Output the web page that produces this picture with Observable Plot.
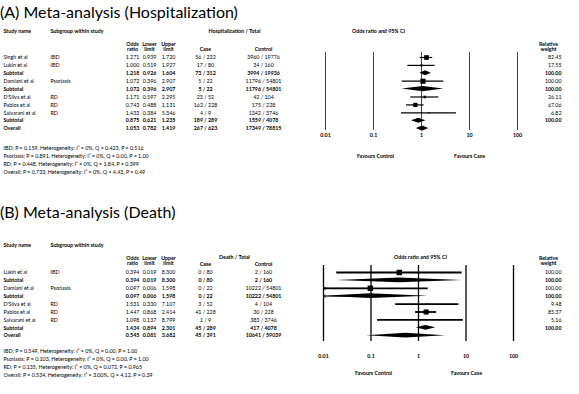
<!DOCTYPE html>
<html><head><meta charset="utf-8">
<script src="https://cdn.jsdelivr.net/npm/d3@7"></script>
<script src="https://cdn.jsdelivr.net/npm/@observablehq/plot@0.6"></script>
<style>
body{margin:0;background:#fff;font-family:Lato,"Open Sans",sans-serif;}
#wrap{position:relative;width:579px;height:394px;overflow:hidden;background:#fff}
.title{position:absolute;left:0;font-size:16px;color:#000;white-space:nowrap;line-height:1}
.panel{position:absolute;left:0}
</style></head><body>
<div id="wrap">
 <div class="title" style="top:4px">(A) Meta-analysis (Hospitalization)</div>
 <div class="panel" id="pA" style="top:24px"></div>
 <div class="title" style="top:204px">(B) Meta-analysis (Death)</div>
 <div class="panel" id="pB" style="top:228px"></div>
</div>
<script>
// ---------- Panel A data (Hospitalization) ----------
const studiesA   = ["Singh et al","Lukin et al","Subtotal","Damiani et al","Subtotal","D'Silva et al","Pablos et al","Salvarani et al","Subtotal","Overall"];
const subgroupsA = ["IBD","IBD","","Psoriasis","","RD","RD","RD","",""];
const kindsA     = ["study","study","subtotal","study","subtotal","study","study","study","subtotal","overall"];
const oddsA      = [1.271,1.000,1.218,1.072,1.072,1.171,0.743,1.433,0.875,1.053];
const lowerA     = [0.939,0.519,0.926,0.396,0.396,0.597,0.488,0.384,0.621,0.782];
const upperA     = [1.720,1.927,1.604,2.907,2.907,2.295,1.131,5.346,1.235,1.419];
const casesA     = ["56 / 232","17 / 80","73 / 312","5 / 22","5 / 22","23 / 52","162 / 228","4 / 9","189 / 289","267 / 623"];
const controlsA  = ["3960 / 19776","34 / 160","3994 / 19936","11796 / 54801","11796 / 54801","42 / 104","175 / 228","1342 / 3746","1559 / 4078","17349 / 78815"];
const weightsA   = [82.45,17.55,100.00,100.00,100.00,26.11,67.06,6.82,100.00,null];
const notesA = [
  "IBD; P = 0.159, Heterogeneity: I\u00b2 = 0%, Q = 0.423, P = 0.516",
  "Psoriasis; P = 0.891, Heterogeneity: I\u00b2 = 0%, Q = 0.00, P = 1.00",
  "RD; P = 0.448, Heterogeneity: I\u00b2 = 0%, Q = 1.84, P = 0.399",
  "Overall; P = 0.733, Heterogeneity: I\u00b2 = 0%, Q = 4.43, P = 0.49"
];

// ---------- Panel B data (Death) ----------
const studiesB   = ["Lukin et al","Subtotal","Damiani et al","Subtotal","D'Silva et al","Pablos et al","Salvarani et al","Subtotal","Overall"];
const subgroupsB = ["IBD","","Psoriasis","","RD","RD","RD","",""];
const kindsB     = ["study","subtotal","study","subtotal","study","study","study","subtotal","overall"];
const oddsB      = [0.394,0.394,0.097,0.097,1.531,1.447,1.098,1.434,0.545];
const lowerB     = [0.019,0.019,0.006,0.006,0.330,0.868,0.137,0.894,0.081];
const upperB     = [8.300,8.300,1.598,1.598,7.107,2.414,8.799,2.301,3.682];
const casesB     = ["0 / 80","0 / 80","0 / 22","0 / 22","3 / 52","41 / 228","1 / 9","45 / 289","45 / 391"];
const controlsB  = ["2 / 160","2 / 160","10222 / 54801","10222 / 54801","4 / 104","30 / 228","383 / 3746","417 / 4078","10641 / 59039"];
const weightsB   = [100.00,100.00,100.00,100.00,9.48,85.37,5.16,100.00,null];
const notesB = [
  "IBD; P = 0.549, Heterogeneity: I\u00b2 = 0%, Q = 0.00, P = 1.00",
  "Psoriasis; P = 0.103, Heterogeneity: I\u00b2 = 0%, Q = 0.00, P = 1.00",
  "RD; P = 0.135, Heterogeneity: I\u00b2 = 0%, Q = 0.072, P = 0.965",
  "Overall; P = 0.534, Heterogeneity: I\u00b2 = 3.00%, Q = 4.12, P = 0.39"
];

// axis ticks of the odds-ratio panel
const orTicks = [0.01, 0.1, 1, 10, 100];
const orTickLabels = ["0.01", "0.1", "1", "10", "100"];
const colHeads = ["Odds\nratio", "Lower\nlimit", "Upper\nlimit"];

const FS = 5.3;
const FONT = "Lato, 'Open Sans', sans-serif";

function panel(el, d, L) {
  const rows = d.studies.map((s, i) => ({
    i, study: s, subgroup: d.subgroups[i], kind: d.kinds[i],
    or: d.odds[i], lo: d.lower[i], hi: d.upper[i],
    cs: d.cases[i], ct: d.controls[i], w: d.weights[i]
  }));
  const plain = rows.filter(r => r.kind === "study");
  const bold = rows.filter(r => r.kind !== "study");
  const n = rows.length;
  const rowOf = py => (py - L.row0) / L.step; // page y -> row units
  const H = L.diamond;
  const lim = v => Math.max(0.01, Math.min(100, v));
  const diamonds = bold.flatMap(r => [
    {key: r.i, x: lim(r.lo), ya: r.i, yb: r.i},
    {key: r.i, x: r.or, ya: r.i - H, yb: r.i + H},
    {key: r.i, x: lim(r.hi), ya: r.i, yb: r.i}
  ]);
  const clipped = rows.filter(r => r.lo < 0.01);
  const top = L.top;

  const txt = (data, opts, fw) => Plot.text(data, {fontSize: FS, fill: "black", fontWeight: fw, ...opts});
  const cols = (data, fw) => [
    txt(data, {y: "i", text: "study", frameAnchor: "left", dx: L.xStudy, textAnchor: "start"}, fw),
    txt(data, {y: "i", text: "subgroup", frameAnchor: "left", dx: L.xSub, textAnchor: "start"}, "normal"),
    txt(data, {y: "i", text: r => r.or.toFixed(3), frameAnchor: "left", dx: L.xOr, textAnchor: "middle"}, fw),
    txt(data, {y: "i", text: r => r.lo.toFixed(3), frameAnchor: "left", dx: L.xLo, textAnchor: "middle"}, fw),
    txt(data, {y: "i", text: r => r.hi.toFixed(3), frameAnchor: "left", dx: L.xHi, textAnchor: "middle"}, fw),
    txt(data, {y: "i", text: "cs", frameAnchor: "left", dx: L.xCase, textAnchor: "middle"}, fw),
    txt(data, {y: "i", text: "ct", frameAnchor: "left", dx: L.xCtrl, textAnchor: "middle"}, fw),
    txt(data.filter(r => r.w != null), {y: "i", text: r => r.w.toFixed(2), frameAnchor: "left", dx: L.xW, textAnchor: "end"}, fw)
  ];
  const head = (t, x, y, anchor = "middle", fw = "bold") =>
    txt([t], {text: v => v, frameAnchor: "top-left", dx: x, dy: y - top, textAnchor: anchor, lineAnchor: "middle", lineHeight: 1.0}, fw);

  const chart = Plot.plot({
    width: 579, height: L.height,
    margin: 0,
    style: {fontFamily: FONT, background: "white", overflow: "visible"},
    x: {type: "log", domain: [0.01, 100], range: L.xRange, clamp: true, axis: null},
    y: {type: "linear", domain: [0, n - 1], range: [L.row0 - top, L.row0 - top + L.step * (n - 1)], axis: null},
    r: {type: "sqrt", domain: [0, 100], range: [0, L.rMax]},
    marks: [
      // headers
      head("Study name", L.xStudy, L.yHead1, "start"),
      head("Subgroup within study", L.xSub, L.yHead1, "start"),
      head(L.groupTitle, L.xGroup, L.yGroup),
      head("Odds ratio and 95% CI", L.xCI, L.yGroup),
      head(colHeads[0], L.xOr, L.yCols),
      head(colHeads[1], L.xLo, L.yCols),
      head(colHeads[2], L.xHi, L.yCols),
      head("Case", L.xCase, L.yCase),
      head("Control", L.xCtrl, L.yCase),
      head("Relative\nweight", L.xWHead, L.yW),
      // table body
      ...cols(plain, "normal"),
      ...cols(bold, "bold"),
      // reference lines
      Plot.ruleX(orTicks, {x: v => v, y1: rowOf(L.ruleTop), y2: rowOf(L.ruleBottom), stroke: L.ruleC, strokeWidth: L.ruleW}),
      // confidence intervals of studies
      Plot.ruleY(plain, {y: "i", x1: r => lim(r.lo), x2: r => lim(r.hi), stroke: "black", strokeWidth: L.ciW}),
      Plot.dot(plain, {x: "or", y: "i", r: "w", symbol: "square", fill: "black", stroke: null}),
      // pooled estimates
      Plot.areaY(diamonds, {x: "x", y1: "ya", y2: "yb", z: "key", fill: "black", curve: "linear"}),
      // arrows for intervals running off the scale
      Plot.arrow(clipped, {x1: r => r.or, y1: "i", x2: r => r.lo, y2: "i", headLength: 3.5, strokeWidth: 0.9, stroke: "black"}),
      // tick labels
      txt(orTicks, {x: v => v, text: (v, i) => orTickLabels[i], frameAnchor: "top", dy: L.yTicks - top, textAnchor: "middle", lineAnchor: "middle"}, "bold"),
      // favours
      head("Favours Control", L.xFavC, L.yFav),
      head("Favours Case", L.xFavK, L.yFav),
      // footnotes
      txt([d.notes.join("\n")], {text: v => v, frameAnchor: "top-left", dx: 3, dy: L.yNotes - top, textAnchor: "start", lineAnchor: "top", lineHeight: L.noteLH}, "normal")
    ]
  });
  el.appendChild(chart);
}

panel(document.getElementById("pA"), {
  studies: studiesA, subgroups: subgroupsA, kinds: kindsA, odds: oddsA, lower: lowerA, upper: upperA,
  cases: casesA, controls: controlsA, weights: weightsA, notes: notesA
}, {
  top: 24, height: 160, groupTitle: "Hospitalization / Total",
  row0: 57, step: 7.9, diamond: 0.32, rMax: 2.9,
  xStudy: 3, xSub: 50, xOr: 132, xLo: 149, xHi: 168, xCase: 205, xCtrl: 263, xW: 561, xWHead: 548,
  xGroup: 234, xCI: 378, xRange: [325, 517], xFavC: 375, xFavK: 469,
  yHead1: 31, yGroup: 31, yCols: 46.5, yCase: 49, yW: 46.5,
  ruleTop: 52, ruleBottom: 130, ruleW: 1, ruleC: "#444", ciW: 1.2,
  yTicks: 134.5, yFav: 156, yNotes: 144.5, noteLH: 1.45
});

panel(document.getElementById("pB"), {
  studies: studiesB, subgroups: subgroupsB, kinds: kindsB, odds: oddsB, lower: lowerB, upper: upperB,
  cases: casesB, controls: controlsB, weights: weightsB, notes: notesB
}, {
  top: 228, height: 166, groupTitle: "Death / Total",
  row0: 272, step: 7.9, diamond: 0.3, rMax: 3.1,
  xStudy: 3, xSub: 50, xOr: 132, xLo: 149, xHi: 168, xCase: 205, xCtrl: 263, xW: 561, xWHead: 548,
  xGroup: 234, xCI: 420, xRange: [323, 513], xFavC: 373, xFavK: 466,
  yHead1: 245, yGroup: 257, yCols: 260, yCase: 264, yW: 260.5,
  ruleTop: 265, ruleBottom: 341, ruleW: 1.3, ruleC: "black", ciW: 1.8,
  yTicks: 356, yFav: 373, yNotes: 347, noteLH: 1.5
});
</script>
</body></html>
